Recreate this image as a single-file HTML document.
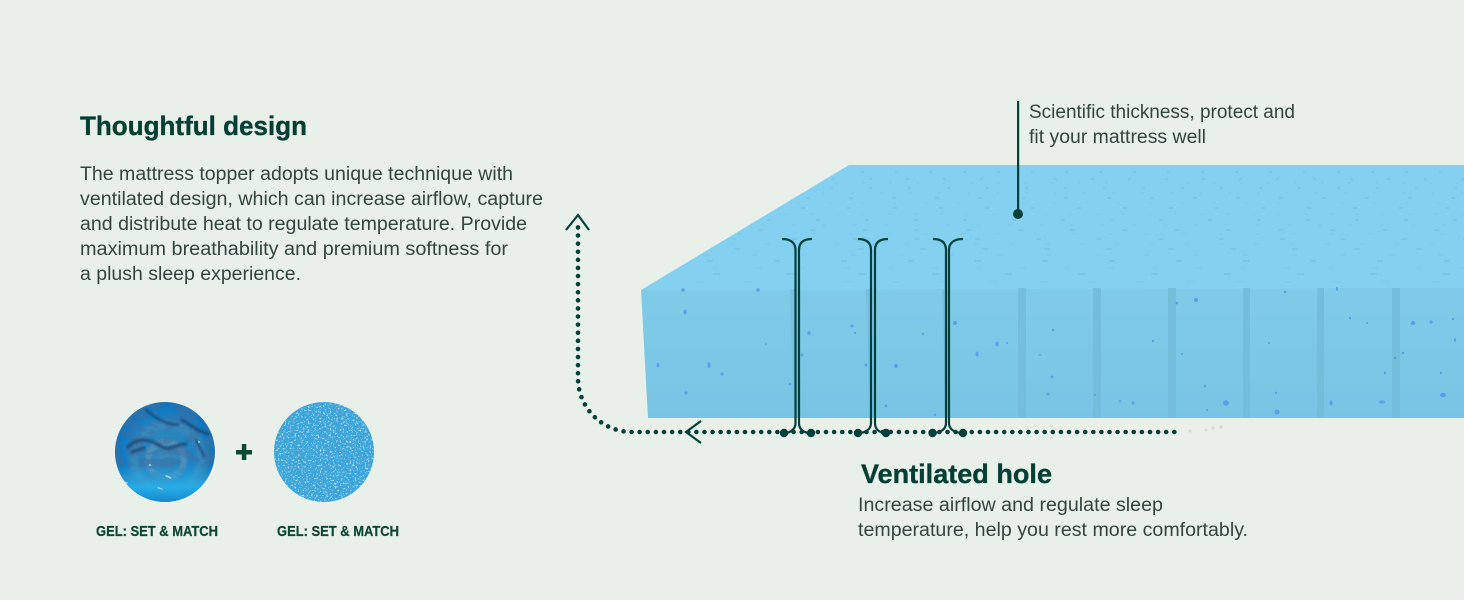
<!DOCTYPE html>
<html><head><meta charset="utf-8"><style>
html,body{margin:0;padding:0;background:#e9f0ea;width:1464px;height:600px;overflow:hidden}
svg{display:block}
text{font-family:"Liberation Sans",sans-serif}
.b{font-size:19px;fill:#33453f}
.h{font-size:27px;font-weight:bold;fill:#053f33;stroke:#053f33;stroke-width:.35}
.g{font-size:15px;font-weight:bold;fill:#0c4636;stroke:#0c4636;stroke-width:.25}
.l{fill:none;stroke:#04403a;stroke-width:2.2}
</style></head><body>
<svg width="1464" height="600" viewBox="0 0 1464 600" xmlns="http://www.w3.org/2000/svg">
<defs>
<linearGradient id="front" x1="0" y1="0" x2="0" y2="1"><stop offset="0" stop-color="#81cbe9"/><stop offset="1" stop-color="#79c3e4"/></linearGradient>
<filter id="grain" x="0" y="0" width="100%" height="100%"><feTurbulence type="fractalNoise" baseFrequency="0.6" numOctaves="2" seed="4"/><feColorMatrix values="0 0 0 0 0.75  0 0 0 0 0.91  0 0 0 0 1  5 0 0 0 -2.85"/></filter>
<filter id="grain2" x="0" y="0" width="100%" height="100%"><feTurbulence type="fractalNoise" baseFrequency="0.5" numOctaves="2" seed="11"/><feColorMatrix values="0 0 0 0 0.03  0 0 0 0 0.4  0 0 0 0 0.7  5 0 0 0 -2.4"/></filter>
<filter id="swirl" x="0" y="0" width="100%" height="100%"><feTurbulence type="turbulence" baseFrequency="0.04 0.07" numOctaves="3" seed="9"/><feColorMatrix values="0 0 0 0 0.05  0 0 0 0 0.16  0 0 0 0 0.36  7 0 0 0 -1.3"/></filter>
<filter id="soft"><feGaussianBlur stdDeviation="1"/></filter>
<filter id="soft3"><feGaussianBlur stdDeviation="3"/></filter>
<radialGradient id="gel" cx="0.5" cy="0.5" r="0.6"><stop offset="0" stop-color="#3c8bb8"/><stop offset=".6" stop-color="#1481c8"/><stop offset="1" stop-color="#0a68ad"/></radialGradient>
<linearGradient id="gelglow" x1="0" y1="0" x2="0" y2="1"><stop offset=".62" stop-color="#2fb8f0" stop-opacity="0"/><stop offset=".85" stop-color="#26b4f0" stop-opacity=".85"/><stop offset="1" stop-color="#1590d8" stop-opacity=".75"/></linearGradient>
<clipPath id="c1"><circle cx="165" cy="452" r="50"/></clipPath>
<clipPath id="c2"><circle cx="324" cy="452" r="50"/></clipPath>
<clipPath id="tp"><polygon points="849,165 1464,165 1464,289 641,290"/></clipPath>
</defs>
<rect width="1464" height="600" fill="#e9f0ea"/>

<!-- mattress -->
<polygon points="849,165 1464,165 1464,289 641,290" fill="#84d0f0"/>
<polygon points="641,290 1464,288 1464,418 648,418" fill="url(#front)"/>
<g fill="#74bedc">
<polygon points="790,289 796,289 796,400 793,400" opacity=".75"/>
<polygon points="866,289 872,289 872,400 869,400" opacity=".75"/>
<polygon points="942,289 948,289 948,400 945,400" opacity=".75"/>
<rect x="1018" y="288" width="8" height="130"/>
<rect x="1093" y="288" width="8" height="130"/>
<rect x="1168" y="288" width="8" height="130"/>
<rect x="1243" y="288" width="7" height="130"/>
<rect x="1317" y="288" width="7" height="130"/>
<rect x="1392" y="288" width="8" height="130"/>
</g>
<!-- top perforation marks -->
<g clip-path="url(#tp)" fill="none" stroke="#62a8d4" stroke-width="1" opacity=".5">
<path d="M650 274H1464" stroke-dasharray="7 66" stroke-dashoffset="10"/>
<path d="M660 261H1464" stroke-dasharray="6 61" stroke-dashoffset="20"/>
<path d="M680 249H1464" stroke-dasharray="6 56" stroke-dashoffset="8"/>
<path d="M700 239H1464" stroke-dasharray="5 56" stroke-dashoffset="30"/>
<path d="M720 230H1464" stroke-dasharray="5 47" stroke-dashoffset="14"/>
<path d="M740 220H1464" stroke-dasharray="4 45" stroke-dashoffset="22"/>
<path d="M760 208H1464" stroke-dasharray="4 42" stroke-dashoffset="5"/>
<path d="M780 198H1464" stroke-dasharray="4 39" stroke-dashoffset="17"/>
<path d="M800 188H1464" stroke-dasharray="3 36" stroke-dashoffset="9"/>
<path d="M820 179H1464" stroke-dasharray="3 34" stroke-dashoffset="25"/>
<path d="M830 172H1464" stroke-dasharray="3 31" stroke-dashoffset="3"/>
</g>
<g clip-path="url(#tp)" fill="none" stroke="#6cb4e0" stroke-width="1" opacity=".28">
<path d="M650 282H1464" stroke-dasharray="8 41" stroke-dashoffset="3"/>
<path d="M680 268H1464" stroke-dasharray="7 37" stroke-dashoffset="13"/>
<path d="M680 255H1464" stroke-dasharray="6 43" stroke-dashoffset="26"/>
<path d="M700 244H1464" stroke-dasharray="6 29" stroke-dashoffset="6"/>
<path d="M720 234H1464" stroke-dasharray="4 33" stroke-dashoffset="19"/>
<path d="M740 225H1464" stroke-dasharray="4 27" stroke-dashoffset="11"/>
<path d="M760 214H1464" stroke-dasharray="3 23" stroke-dashoffset="2"/>
<path d="M780 203H1464" stroke-dasharray="3 29" stroke-dashoffset="15"/>
<path d="M800 193H1464" stroke-dasharray="3 26" stroke-dashoffset="7"/>
<path d="M820 183H1464" stroke-dasharray="3 24" stroke-dashoffset="12"/>
</g>
<!-- front specks -->
<g fill="#5b9ee9">
<circle cx="683" cy="290" r="1.8"/><circle cx="758" cy="290" r="1.8"/><ellipse cx="685" cy="312" rx="1.6" ry="2.6"/><ellipse cx="709" cy="365" rx="1.6" ry="3"/><ellipse cx="658" cy="365" rx="1.3" ry="2.3"/><circle cx="686" cy="393" r="1.6"/><circle cx="722" cy="374" r="1.5"/><circle cx="809" cy="333" r="1.7"/><circle cx="802" cy="355" r="1.4"/><circle cx="766" cy="344" r="1"/><circle cx="790" cy="384" r="1.3"/><circle cx="852" cy="326" r="1.5"/><circle cx="855" cy="333" r="1.1"/><circle cx="896" cy="366" r="2"/><circle cx="866" cy="365" r="1.5"/><circle cx="886" cy="406" r="1.3"/><circle cx="935" cy="415" r="1.2"/><circle cx="923" cy="334" r="1.2"/><circle cx="955" cy="323" r="2"/><ellipse cx="997" cy="344" rx="1.6" ry="2.5"/><ellipse cx="977" cy="354" rx="1.5" ry="2.4"/><circle cx="1007" cy="343" r="1"/>
<circle cx="1196" cy="300" r="2"/><circle cx="1226" cy="403" r="2.8"/><circle cx="1277" cy="412" r="2.4"/><circle cx="1413" cy="323" r="2.2"/><circle cx="1431" cy="322" r="1.6"/><ellipse cx="1443" cy="395" rx="3" ry="2.2"/><ellipse cx="1382" cy="402" rx="3" ry="1.6"/><ellipse cx="1331" cy="403" rx="1.6" ry="2.6"/><circle cx="1133" cy="403" r="1.5"/><circle cx="1052" cy="377" r="1.5"/><circle cx="1048" cy="394" r="1.4"/><circle cx="1053" cy="330" r="1.2"/><circle cx="1153" cy="341" r="1.2"/><circle cx="1182" cy="354" r="1"/><circle cx="1205" cy="386" r="1.2"/><circle cx="1285" cy="292" r="1.3"/><ellipse cx="1337" cy="289" rx="1" ry="2"/><circle cx="1350" cy="318" r="1.2"/><circle cx="1367" cy="323" r="1"/><circle cx="1453" cy="319" r="1.2"/><ellipse cx="1455" cy="340" rx="1" ry="2"/><circle cx="1403" cy="353" r="1.2"/><circle cx="1385" cy="373" r="1.2"/><circle cx="1441" cy="373" r="1.2"/><circle cx="1276" cy="393" r="1.2"/><circle cx="1269" cy="343" r="1"/><circle cx="1177" cy="303" r="1.4"/><circle cx="1395" cy="358" r="1.2"/><circle cx="1207" cy="410" r="1"/><circle cx="1120" cy="401" r="1"/><circle cx="1095" cy="395" r="1"/><circle cx="1040" cy="355" r="1"/>
</g>

<!-- dotted arrow -->
<path d="M1174.300 432H632A54 54 0 0 1 578 378V224" fill="none" stroke="#04403a" stroke-width="4.6" stroke-linecap="round" stroke-dasharray="0 8.1"/>
<g fill="#d3ddd6"><circle cx="1190" cy="431" r="1.5"/><circle cx="1206" cy="430" r="1.5"/><circle cx="1213" cy="428" r="1.7"/><circle cx="1221" cy="427" r="1.7"/></g>
<path class="l" d="M566 230L578 215L589 230M701 421L686 432L701 443"/>

<!-- brackets -->
<path class="l" d="M782 239C791 239 795.500 243 795.500 250V423C795.500 429 791 433 784 433M812 239C803 239 799 243 799 250V423C799 429 803 433 811 433"/>
<path class="l" d="M858 239C867 239 871 243 871 250V423C871 429 866 433 858 433M888 239C879 239 875 243 875 250V423C875 429 879 433 886 433"/>
<path class="l" d="M933 239C942 239 946 243 946 250V423C946 429 941 433 932 433M963 239C954 239 949 243 949 250V423C949 429 954 433 963 433"/>
<g fill="#04403a"><circle cx="784" cy="433" r="4.200"/><circle cx="811" cy="433" r="4.200"/><circle cx="858" cy="433" r="4.200"/><circle cx="886" cy="433" r="4.200"/><circle cx="932.500" cy="433" r="4.200"/><circle cx="963" cy="433" r="4.200"/><circle cx="1018" cy="214" r="5"/><rect x="1017" y="101" width="2.200" height="113"/></g>

<!-- text -->
<text class="h" x="80" y="135" textLength="227" lengthAdjust="spacingAndGlyphs">Thoughtful design</text>
<text class="b" x="80" y="180" textLength="433" lengthAdjust="spacingAndGlyphs">The mattress topper adopts unique technique with</text>
<text class="b" x="80" y="205" textLength="463" lengthAdjust="spacingAndGlyphs">ventilated design, which can increase airflow, capture</text>
<text class="b" x="80" y="230" textLength="447" lengthAdjust="spacingAndGlyphs">and distribute heat to regulate temperature. Provide</text>
<text class="b" x="80" y="255" textLength="428" lengthAdjust="spacingAndGlyphs">maximum breathability and premium softness for</text>
<text class="b" x="80" y="280" textLength="221" lengthAdjust="spacingAndGlyphs">a plush sleep experience.</text>
<text class="b" x="1029" y="118" textLength="266" lengthAdjust="spacingAndGlyphs">Scientific thickness, protect and</text>
<text class="b" x="1029" y="143" textLength="177" lengthAdjust="spacingAndGlyphs">fit your mattress well</text>
<text class="h" x="861" y="483" textLength="191" lengthAdjust="spacingAndGlyphs">Ventilated hole</text>
<text class="b" x="858" y="511" textLength="305" lengthAdjust="spacingAndGlyphs">Increase airflow and regulate sleep</text>
<text class="b" x="858" y="536" textLength="390" lengthAdjust="spacingAndGlyphs">temperature, help you rest more comfortably.</text>

<!-- circles -->
<circle cx="166" cy="453" r="50" fill="#fff" opacity=".85"/>
<g clip-path="url(#c1)">
<rect x="115" y="402" width="100" height="100" fill="url(#gel)"/>
<circle cx="168" cy="458" r="34" fill="none" stroke="#5a8fae" stroke-width="9" opacity=".55" filter="url(#soft3)"/>
<circle cx="166" cy="460" r="18" fill="none" stroke="#6d99b3" stroke-width="6" opacity=".55" filter="url(#soft)"/>
<rect x="115" y="402" width="100" height="100" filter="url(#swirl)" opacity=".55"/>
<g fill="none" stroke="#123a68" stroke-linecap="round" filter="url(#soft)" opacity=".7">
<path d="M146 410C158 420 166 424 178 425" stroke-width="2.500"/>
<path d="M182 420L198 430L208 434" stroke-width="3"/>
<path d="M128 447C138 436 152 440 160 446C170 452 176 444 186 444" stroke-width="3"/>
<path d="M196 440L204 456" stroke-width="2"/>
<path d="M132 452L144 448" stroke-width="3"/>
</g>
<rect x="115" y="402" width="100" height="100" fill="url(#gelglow)"/>
<g fill="#e8f6fb" opacity=".7"><rect x="166" y="475" width="6" height="1.500" transform="rotate(25 166 475)"/><circle cx="150" cy="465" r="1"/><rect x="158" y="487" width="5" height="1.200" transform="rotate(20 158 487)"/><circle cx="199" cy="442" r="1"/><rect x="122" y="481" width="6" height="1.200" transform="rotate(15 122 481)"/></g>
</g>
<g clip-path="url(#c2)">
<rect x="274" y="402" width="100" height="100" fill="#42a2da"/>
<rect x="274" y="402" width="100" height="100" filter="url(#grain2)"/>
<rect x="274" y="402" width="100" height="100" filter="url(#grain)"/>
</g>
<rect x="236" y="450" width="16" height="4.500" fill="#0d4a2f"/><rect x="241.800" y="444" width="4.500" height="16" fill="#0d4a2f"/>
<text class="g" x="96" y="536" textLength="122" lengthAdjust="spacingAndGlyphs">GEL: SET &amp; MATCH</text>
<text class="g" x="277" y="536" textLength="122" lengthAdjust="spacingAndGlyphs">GEL: SET &amp; MATCH</text>
</svg>
</body></html>
